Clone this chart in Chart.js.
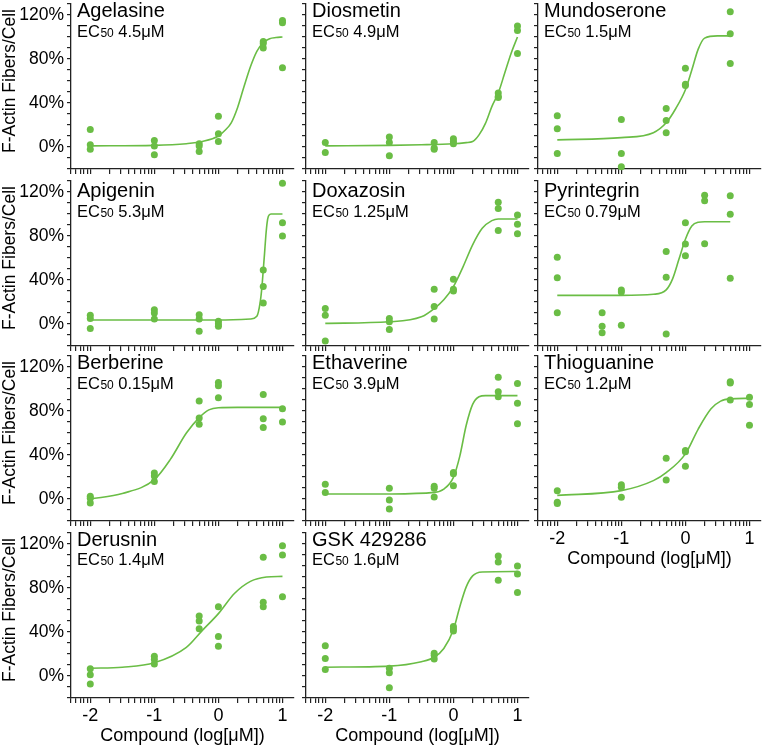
<!DOCTYPE html>
<html>
<head>
<meta charset="utf-8">
<script src="https://cdn.jsdelivr.net/npm/chart.js@4.4.1/dist/chart.umd.min.js"></script>
<style>
  body { margin: 0; background: #fff; }
  #wrap { position: relative; width: 765px; height: 747px; overflow: hidden; }
  #wrap canvas { position: absolute; }
</style>
</head>
<body>
<div id="wrap"></div>
<script>
// doses are log10[uM]; responses are % F-actin fibers/cell
const agelasineDose = [-2,-2,-2,-1,-1,-1,-0.3,-0.3,-0.3,0,0,0,0.7,0.7,0.7,1,1,1];
const agelasineResp = [16,2,-2, 6,1,-7, 3,1,-4, 28,12,5, 96,94,90, 115,113,72];
const agelasineFitX = [-2,-1,-0.5,-0.25,0,0.1,0.2,0.3,0.4,0.5,0.6,0.7,0.8,0.9,1];
const agelasineFitY = [1,1.5,3,5,10,15,22,36,55,73,87,95,98.5,99.5,100];

const diosmetinDose = [-2,-2,-1,-1,-1,-0.3,-0.3,-0.3,0,0,0,0.7,0.7,0.7,1,1,1];
const diosmetinResp = [4,-5, 9,4,-8, 4,-1,-2, 7.5,5,3, 49,46,45, 110,106,85];
const diosmetinFitX = [-2,-1,-0.5,0,0.2,0.3,0.4,0.5,0.6,0.7,0.8,0.9,1];
const diosmetinFitY = [1,1.5,2,3,4,5,11,21.5,36.7,49,67,85,100];

const mundoseroneDose = [-2,-2,-2,-1,-1,-1,-0.3,-0.3,-0.3,0,0,0,0.7,0.7,0.7];
const mundoseroneResp = [28.5,16.7,-6, 25,-6,-18, 35,24,13, 71.5,57,56, 123,103,76];
const mundoseroneFitX = [-2,-1,-0.5,-0.3,-0.15,0,0.1,0.2,0.3,0.5,0.7];
const mundoseroneFitY = [6.5,8.5,13,22,35,52,70,89,99,101,101];

const apigeninDose = [-2,-2,-2,-1,-1,-1,-0.3,-0.3,-0.3,0,0,0,0.7,0.7,0.7,1,1,1];
const apigeninResp = [8,5,-4, 13,10,4.5, 8.5,4.5,-6.5, 2.5,0,-2, 49,34,19, 128,92,80];
const apigeninFitX = [-2,0,0.5,0.6,0.65,0.68,0.7,0.72,0.74,0.76,0.78,0.82,1];
const apigeninFitY = [3.6,3.6,4.5,7,19,34,49,64,80,92,98,100,100];

const doxazosinDose = [-2,-2,-2,-1,-1,-1,-0.3,-0.3,-0.3,0,0,0,0.7,0.7,0.7,1,1,1];
const doxazosinResp = [14,8,-15.5, 5,2,-5, 31.5,16,4.5, 40.6,31.5,30, 110.6,105,85, 99,90.6,82];
const doxazosinFitX = [-2,-1,-0.5,-0.3,-0.15,0,0.15,0.3,0.45,0.6,0.7,1];
const doxazosinFitY = [0.6,2,6.5,14,22,34,52,72,87,94,95.5,95.5];

const pyrintegrinDose = [-2,-2,-2,-1.3,-1.3,-1.3,-1,-1,-1,-0.3,-0.3,-0.3,0,0,0,0.3,0.3,0.3,0.7,0.7,0.7];
const pyrintegrinResp = [60.6,42,10.3, 10.3,-2,-8, 31,29,-1.2, 66,42.4,-9, 92,72.7,62, 117,112,73, 116.7,99.7,41.5];
const pyrintegrinFitX = [-2,-1,-0.5,-0.3,-0.2,-0.1,0,0.1,0.2,0.3,0.7];
const pyrintegrinFitY = [26,26,27,31,41,59,77,89,92.5,93,93];

const berberineDose = [-2,-2,-2,-1,-1,-1,-0.3,-0.3,-0.3,0,0,0,0.7,0.7,0.7,1,1];
const berberineResp = [2.4,0.6,-3.6, 23.6,21,16, 89,73.6,68, 106,103,92, 95,73,65, 82,70];
const berberineFitX = [-2,-1.5,-1,-0.75,-0.5,-0.3,-0.15,0,0.3,1];
const berberineFitY = [0,5,17.6,36,60,74,81,83,83.3,83.3];

const ethaverineDose = [-2,-2,-1,-1,-1,-0.3,-0.3,-0.3,0,0,0,0.7,0.7,0.7,1,1,1];
const ethaverineResp = [13.3,5.8, 9.7,-1,-9, 11.5,9.7,1.8, 24,23,12, 110.6,97.6,93, 105,87,68.5];
const ethaverineFitX = [-2,-1,-0.3,-0.15,0,0.1,0.2,0.3,0.4,0.5,1];
const ethaverineFitY = [4.5,4.6,6,9,19.7,39,67,86,93,94,94];

const thioguanineDose = [-2,-2,-2,-1,-1,-1,-0.3,-0.3,0,0,0,0.7,0.7,0.7,1,1,1];
const thioguanineResp = [7.6,-3,-4, 13,10.6,1.5, 37,17.3, 44,43,29.7, 106.7,105.5,90, 92.4,86,67];
const thioguanineFitX = [-2,-1,-0.5,-0.3,0,0.2,0.4,0.55,0.7,1];
const thioguanineFitY = [3.3,7.6,16.7,24,41,63.6,82,89,91,91.5];

const derusninDose = [-2,-2,-2,-1,-1,-1,-0.3,-0.3,-0.3,0,0,0,0.7,0.7,0.7,1,1,1];
const derusninResp = [6.7,1.2,-7.3, 18,15,11, 54.5,50,43, 63,36,27, 108,67,63, 118.5,110,72];
const derusninFitX = [-2,-1.5,-1,-0.5,-0.25,0,0.25,0.5,0.75,1];
const derusninFitY = [7,8,12,26,41.5,56.7,75,86,90,90.6];

const gskDose = [-2,-2,-2,-1,-1,-1,-0.3,-0.3,-0.3,0,0,0,0.7,0.7,0.7,1,1,1];
const gskResp = [27.6,15.8,6, 7,3,-10.6, 20.6,18.8,15.5, 45,43,41, 109,103.6,87, 100,92.7,76];
const gskFitX = [-2,-1,-0.5,-0.3,-0.15,0,0.1,0.2,0.3,0.45,1];
const gskFitY = [8,9,13,17,25,42,63,81,91,94.5,95];

const names = ['Agelasine','Diosmetin','Mundoserone','Apigenin','Doxazosin','Pyrintegrin',
               'Berberine','Ethaverine','Thioguanine','Derusnin','GSK 429286'];
const ec50s = ['4.5','4.9','1.5','5.3','1.25','0.79','0.15','3.9','1.2','1.4','1.6'];
const yLabelTicks = [0, 40, 80, 120];
const xLabelTicks = [-2, -1, 0, 1];

const FONT = "'Liberation Sans', Arial, Helvetica, sans-serif";
const GREEN = '#6abd45';
const AXIS = '#222';
const XMIN = Math.log10(0.005);
const XMAX = 1.18;

Chart.defaults.font.family = FONT;
Chart.defaults.color = '#000';

// minor log ticks for the x axis
const xTickValues = [];
for (let n = -3; n <= 1; n++) {
    for (let k = 1; k <= 9; k++) {
        const v = n + Math.log10(k);
        if (v >= XMIN - 1e-9 && v <= XMAX) xTickValues.push(v);
    }
}

const series = [
    [agelasineDose, agelasineResp, agelasineFitX, agelasineFitY],
    [diosmetinDose, diosmetinResp, diosmetinFitX, diosmetinFitY],
    [mundoseroneDose, mundoseroneResp, mundoseroneFitX, mundoseroneFitY],
    [apigeninDose, apigeninResp, apigeninFitX, apigeninFitY],
    [doxazosinDose, doxazosinResp, doxazosinFitX, doxazosinFitY],
    [pyrintegrinDose, pyrintegrinResp, pyrintegrinFitX, pyrintegrinFitY],
    [berberineDose, berberineResp, berberineFitX, berberineFitY],
    [ethaverineDose, ethaverineResp, ethaverineFitX, ethaverineFitY],
    [thioguanineDose, thioguanineResp, thioguanineFitX, thioguanineFitY],
    [derusninDose, derusninResp, derusninFitX, derusninFitY],
    [gskDose, gskResp, gskFitX, gskFitY]
];

// layout: canvas offsets so plot areas line up with the reference
const colLeft = [0, 235, 467];
const rowTop = [0, 177, 352, 529];
const rowTextShift = [0, 3, 0, -0.5];

const panelText = {
    id: 'panelText',
    afterDraw(chart, args, opts) {
        const ctx = chart.ctx;
        const area = chart.chartArea;
        const x = area.left + 6;
        ctx.save();
        ctx.fillStyle = '#000';
        ctx.textBaseline = 'alphabetic';
        ctx.textAlign = 'left';
        ctx.font = '20px ' + FONT;
        ctx.fillText(opts.name, x, area.top + 13 + opts.shift);

        let cx = x;
        const by = area.top + 32.5 + opts.shift;
        ctx.font = '16.5px ' + FONT;
        ctx.fillText('EC', cx, by);
        cx += ctx.measureText('EC').width + 0.5;
        ctx.font = '12px ' + FONT;
        ctx.fillText('50', cx, by);
        cx += ctx.measureText('50').width;
        ctx.font = '16.5px ' + FONT;
        ctx.fillText(' ' + opts.ec50 + 'μM', cx, by);

        if (opts.yTitle) {
            ctx.translate(10.5, chart.scales.y.getPixelForValue(60));
            ctx.rotate(-Math.PI / 2);
            ctx.textAlign = 'center';
            ctx.textBaseline = 'middle';
            ctx.font = '17.5px ' + FONT;
            ctx.fillText('F-Actin Fibers/Cell', 0, 0);
        }
        ctx.restore();
    }
};

const wrap = document.getElementById('wrap');

names.forEach(function(name, i) {
    const row = Math.floor(i / 3);
    const col = i % 3;
    const s = series[i];
    const showX = (row === 3) || (row === 2 && col === 2);
    const showY = col === 0;

    const canvas = document.createElement('canvas');
    canvas.width = 298;
    canvas.height = 218;
    canvas.style.left = colLeft[col] + 'px';
    canvas.style.top = rowTop[row] + 'px';
    wrap.appendChild(canvas);

    const dots = s[0].map((d, j) => ({x: d, y: s[1][j]}));
    const fit = s[2].map((d, j) => ({x: d, y: s[3][j]}));

    new Chart(canvas, {
        type: 'scatter',
        data: {
            datasets: [
                {
                    data: dots,
                    pointRadius: 3.5,
                    pointBackgroundColor: GREEN,
                    pointBorderWidth: 0,
                    showLine: false,
                    clip: false
                },
                {
                    data: fit,
                    showLine: true,
                    pointRadius: 0,
                    borderColor: GREEN,
                    borderWidth: 1.6,
                    cubicInterpolationMode: 'monotone',
                    fill: false
                }
            ]
        },
        options: {
            responsive: false,
            animation: false,
            events: [],
            layout: { padding: { top: 4, right: 3, left: 0, bottom: 0 } },
            plugins: {
                legend: { display: false },
                tooltip: { enabled: false },
                panelText: { name: name, ec50: ec50s[i], shift: rowTextShift[row], yTitle: showY }
            },
            scales: {
                x: {
                    type: 'linear',
                    min: XMIN,
                    max: XMAX,
                    afterBuildTicks: function(scale) {
                        scale.ticks = xTickValues.map(v => ({value: v}));
                    },
                    afterFit: function(scale) {
                        scale.height = 49;
                        scale.paddingLeft = 0;
                        scale.paddingRight = 0;
                    },
                    ticks: {
                        display: showX,
                        autoSkip: false,
                        maxRotation: 0,
                        padding: 2,
                        font: { size: 18 },
                        color: '#000',
                        callback: function(v) {
                            return xLabelTicks.indexOf(v) >= 0 ? String(v) : '';
                        }
                    },
                    grid: { drawOnChartArea: false, tickLength: 5, color: AXIS, lineWidth: 1.2 },
                    border: { color: AXIS, width: 1.3 },
                    title: {
                        display: showX,
                        text: 'Compound (log[μM])',
                        font: { size: 18 },
                        color: '#000',
                        padding: { top: 0, bottom: 0 }
                    }
                },
                y: {
                    min: -20,
                    max: 130,
                    afterFit: function(scale) {
                        scale.width = 71;
                        scale.paddingTop = 0;
                        scale.paddingBottom = 0;
                    },
                    ticks: {
                        display: showY,
                        stepSize: 10,
                        autoSkip: false,
                        padding: 3,
                        font: { size: 17.5 },
                        color: '#000',
                        callback: function(v) {
                            return yLabelTicks.indexOf(v) >= 0 ? v + '%' : '';
                        }
                    },
                    grid: { drawOnChartArea: false, tickLength: 4, color: AXIS, lineWidth: 1.2 },
                    border: { color: AXIS, width: 1.3 }
                }
            }
        },
        plugins: [panelText]
    });
});
</script>
</body>
</html>
